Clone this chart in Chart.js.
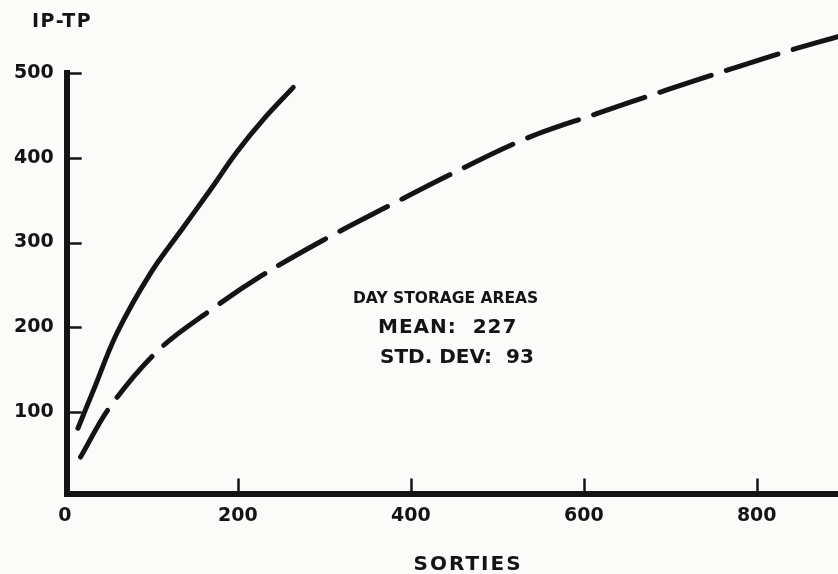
<!DOCTYPE html>
<html>
<head>
<meta charset="utf-8">
<script src="https://cdn.jsdelivr.net/npm/chart.js@4.4.1/dist/chart.umd.min.js"></script>
<style>
  html, body { margin: 0; padding: 0; background: #fbfbf9; }
  #wrap { width: 838px; height: 574px; position: relative; }
</style>
</head>
<body>
<div id="wrap"><canvas id="c"></canvas></div>
<script>
// valores (SORTIES x IP-TP)
const sortiesSolid = [15, 33, 60, 99, 137, 168, 199, 231, 264];
const ipTpSolid    = [81, 126, 193, 264, 318, 362, 407, 447, 483];
const sortiesDashed = [18, 52, 108, 168, 226, 299, 376, 445, 534, 615, 696, 777, 846, 894];
const ipTpDashed    = [47, 106, 173, 220, 260, 303, 344, 380, 423, 452, 480, 507, 529, 543];

const xTicks = [0, 200, 400, 600, 800];
const yTicks = [100, 200, 300, 400, 500];

const note = ['DAY STORAGE AREAS', 'MEAN:  227', 'STD. DEV:  93'];

const ink = '#141414';
const fontFam = '"DejaVu Sans", sans-serif';

const toXY = (xs, ys) => xs.map((x, i) => ({ x, y: ys[i] }));

// marcas internas dos eixos + textos soltos
const extras = {
  id: 'extras',
  afterDraw(chart) {
    const { ctx, chartArea: a, scales: { x, y } } = chart;
    ctx.save();
    ctx.strokeStyle = ink;
    ctx.lineWidth = 2.5;
    ctx.beginPath();
    yTicks.forEach(v => {
      const py = Math.round(y.getPixelForValue(v)) + 0.5;
      ctx.moveTo(a.left, py); ctx.lineTo(a.left + 15, py);
    });
    xTicks.filter(v => v > 0).forEach(v => {
      const px = Math.round(x.getPixelForValue(v)) + 0.5;
      ctx.moveTo(px, a.bottom); ctx.lineTo(px, a.bottom - 15);
    });
    ctx.stroke();

    ctx.fillStyle = ink;
    ctx.textBaseline = 'alphabetic';
    ctx.textAlign = 'left';

    ctx.letterSpacing = '1.5px';
    ctx.font = 'bold 19px ' + fontFam;
    ctx.fillText('IP-TP', 32, 27);

    ctx.textAlign = 'center';
    ctx.letterSpacing = '2px';
    ctx.font = 'bold 20px ' + fontFam;
    ctx.fillText('SORTIES', 468, 570);

    ctx.textAlign = 'left';
    ctx.letterSpacing = '0px';
    ctx.font = 'bold 15.5px ' + fontFam;
    ctx.fillText(note[0], 353, 303);
    ctx.font = 'bold 20px ' + fontFam;
    ctx.letterSpacing = '1px';
    ctx.fillText(note[1], 378, 333);
    ctx.letterSpacing = '0px';
    ctx.fillText(note[2], 380, 363);
    ctx.restore();
  }
};

new Chart(document.getElementById('c'), {
  type: 'line',
  data: {
    datasets: [
      {
        data: toXY(sortiesSolid, ipTpSolid),
        borderColor: ink, borderWidth: 5,
        borderCapStyle: 'round', borderJoinStyle: 'round',
        tension: 0.35,
        pointRadius: 0, clip: false
      },
      {
        data: toXY(sortiesDashed, ipTpDashed),
        borderColor: ink, borderWidth: 5,
        borderDash: [54, 16],
        borderCapStyle: 'round', borderJoinStyle: 'round',
        tension: 0.35,
        pointRadius: 0, clip: false
      }
    ]
  },
  options: {
    responsive: true, maintainAspectRatio: false,
    animation: false,
    layout: { padding: { top: 73, right: 0, left: 0, bottom: 0 } },
    plugins: { legend: { display: false }, tooltip: { enabled: false } },
    scales: {
      x: {
        type: 'linear', min: 2, max: 894,
        afterBuildTicks: s => { s.ticks = xTicks.map(v => ({ value: v })); },
        afterFit: s => { s.height = 80.5; },
        grid: { display: false, drawTicks: false },
        border: { display: true, color: ink, width: 6 },
        ticks: { color: ink, padding: 11, maxRotation: 0, font: { family: fontFam, size: 19, weight: 'bold' } }
      },
      y: {
        type: 'linear', min: 4, max: 500,
        afterBuildTicks: s => { s.ticks = yTicks.map(v => ({ value: v })); },
        afterFit: s => { s.width = 66.7; },
        grid: { display: false, drawTicks: false },
        border: { display: true, color: ink, width: 6 },
        ticks: { color: ink, padding: 13, font: { family: fontFam, size: 19, weight: 'bold' } }
      }
    }
  },
  plugins: [extras]
});
</script>
</body>
</html>
